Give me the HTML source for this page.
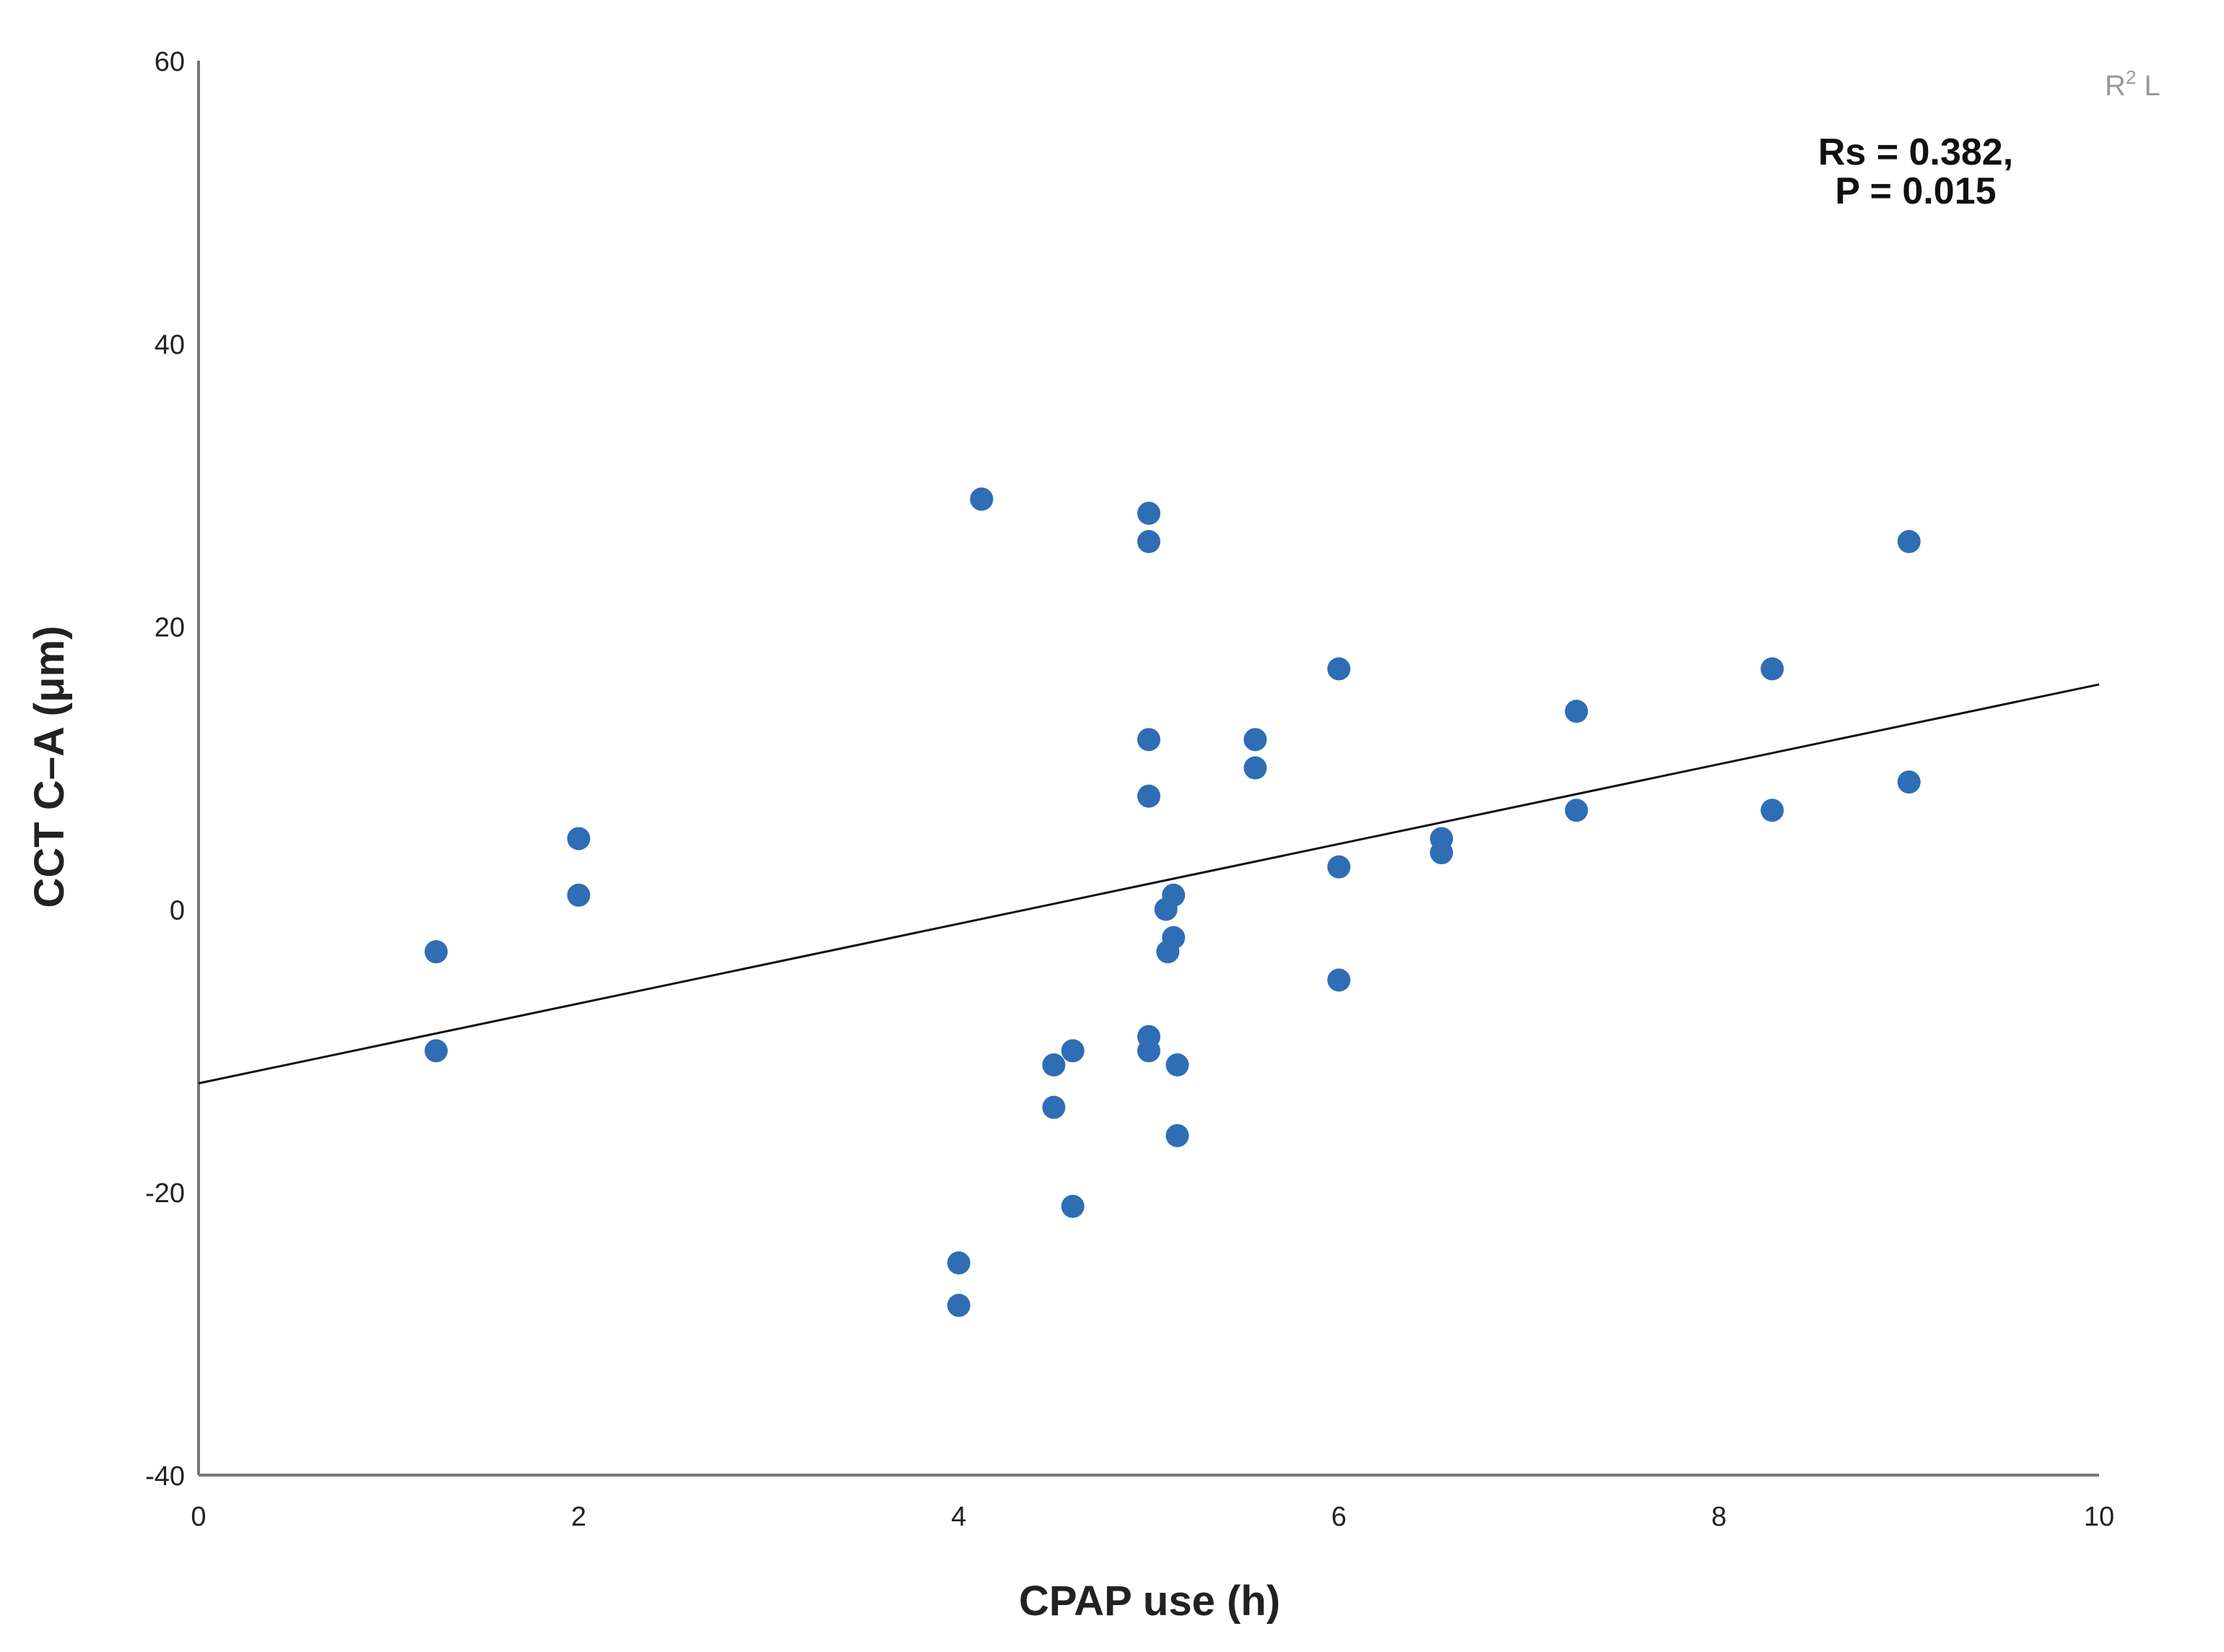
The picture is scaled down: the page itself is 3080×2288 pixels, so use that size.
<!DOCTYPE html>
<html><head><meta charset="utf-8"><style>
html,body{margin:0;padding:0;background:#fff;}
svg{display:block;font-family:"Liberation Sans",sans-serif;}
</style></head><body>
<svg id="chart" width="3080" height="2288" viewBox="0 0 3080 2288" xmlns="http://www.w3.org/2000/svg">
<rect width="3080" height="2288" fill="#fff"/>
<g id="axes"></g>
<g id="marks"></g>
<text transform="translate(88,1062) rotate(-90)" text-anchor="middle" font-size="58" font-weight="bold" fill="#222">CCT C–A (μm)</text>
<text x="1592" y="2237" text-anchor="middle" font-size="58" font-weight="bold" fill="#222">CPAP use (h)</text>
<text x="2653" y="228" text-anchor="middle" font-size="52" font-weight="bold" fill="#111">Rs = 0.382,</text>
<text x="2653" y="282" text-anchor="middle" font-size="52" font-weight="bold" fill="#111">P = 0.015</text>
<text x="2915" y="132" font-size="40" fill="#999">R<tspan dy="-16" font-size="26">2</tspan><tspan dy="16"> L</tspan></text>
</svg>
<script>
const xVals=[1.25,1.25,2,2,4.12,4.12,4,4,4.5,4.5,4.6,4.6,5,5,5,5,5,5,5.09,5.13,5.13,5.1,5.15,5.15,5.56,5.56,6,6,6,6.54,6.54,7.25,7.25,8.28,8.28,9,9];
const yVals=[-3,-10,5,1,29,29,-25,-28,-11,-14,-10,-21,28,26,12,8,-9,-10,0,1,-2,-3,-11,-16,12,10,17,3,-5,5,4,14,7,17,7,26,9];
const xTicks=[0,2,4,6,8,10];
const yTicks=[-40,-20,0,20,40,60];
const fitLine=[-12.3,15.9];
const X0=275,X1=2907,Y0=2043,Y1=84;
const sx=v=>X0+(v-0)/(10-0)*(X1-X0);
const sy=v=>Y0-(v+40)/(100)*(Y0-Y1);
const NS="http://www.w3.org/2000/svg";
const axes=document.getElementById('axes'),marks=document.getElementById('marks');
function mk(tag,attrs,parent){const e=document.createElementNS(NS,tag);for(const k in attrs)e.setAttribute(k,attrs[k]);parent.appendChild(e);return e;}
const ya=mk('line',{x1:X0,y1:Y1,x2:X0,y2:Y0,stroke:'#777','stroke-width':4},axes);


const xa=mk('line',{x1:X0,y1:Y0,x2:X1,y2:Y0,stroke:'#777','stroke-width':4},axes);


xTicks.forEach(t=>{const e=mk('text',{x:sx(t),y:2113,'text-anchor':'middle','font-size':38,fill:'#222'},axes);e.textContent=t;

});
yTicks.forEach(t=>{const e=mk('text',{x:256,y:sy(t)+14,'text-anchor':'end','font-size':38,fill:'#222'},axes);e.textContent=t;

});
const fl=mk('line',{x1:sx(0),y1:sy(fitLine[0]),x2:sx(10),y2:sy(fitLine[1]),stroke:'#111','stroke-width':3},marks);


xVals.forEach((x,i)=>{const c=mk('circle',{cx:sx(x),cy:sy(yVals[i]),r:16,fill:'#2f6db5'},marks);

});
</script>
</body></html>
